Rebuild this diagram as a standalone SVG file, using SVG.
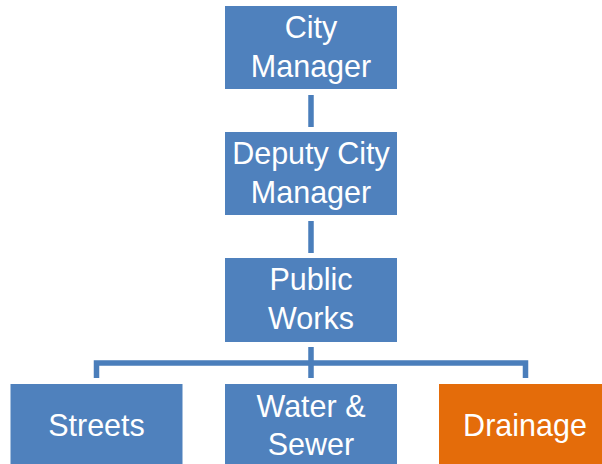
<svg xmlns="http://www.w3.org/2000/svg" width="602" height="464" viewBox="0 0 602 464">
<style>
.b{fill:#4F81BD}
.o{fill:#E46C0A}
text{font-family:"Liberation Sans",Arial,sans-serif;font-size:30.5px;fill:#fff;text-anchor:middle}
.c{stroke:#4A7EBB;stroke-width:5.5;fill:none;stroke-linejoin:miter}
</style>
<rect width="602" height="464" fill="#fff"/>
<g id="connectors">
<line class="c" x1="311" y1="95" x2="311" y2="127"/>
<line class="c" x1="311" y1="221" x2="311" y2="253"/>
<path class="c" d="M311 347V378M96.5 378V363H525.5V378"/>
</g>
<g id="city-manager"><rect class="b" x="225" y="6" width="172" height="83"/><text x="311" y="38">City</text><text x="311" y="77">Manager</text></g>
<g id="deputy-city-manager"><rect class="b" x="225" y="132" width="172" height="83"/><text x="311" y="164">Deputy City</text><text x="311" y="203">Manager</text></g>
<g id="public-works"><rect class="b" x="225" y="258" width="172" height="84"/><text x="311" y="290">Public</text><text x="311" y="329">Works</text></g>
<g id="streets"><rect class="b" x="10.5" y="384" width="172" height="84"/><text x="96.5" y="436">Streets</text></g>
<g id="water-sewer"><rect class="b" x="225" y="384" width="172" height="84"/><text x="311" y="417">Water &amp;</text><text x="311" y="455">Sewer</text></g>
<g id="drainage"><rect class="o" x="439" y="384" width="172" height="84"/><text x="525" y="436">Drainage</text></g>
</svg>
